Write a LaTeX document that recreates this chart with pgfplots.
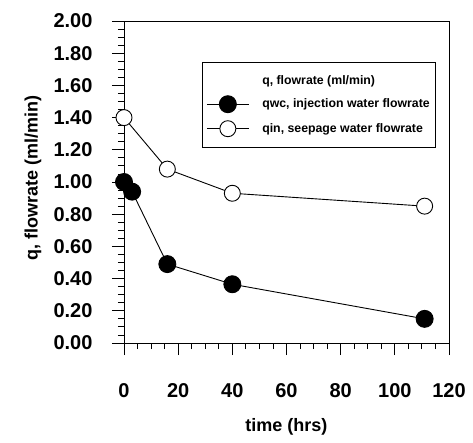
\documentclass[border=0pt]{standalone}
\usepackage{pgfplots}
\pgfplotsset{compat=1.18}
\usepackage{fontspec}
\setmainfont{Liberation Sans}
\begin{document}
\begin{tikzpicture}
\useasboundingbox (-124pt,-99pt) rectangle (349pt,343pt);
\begin{axis}[
  scale only axis, width=325pt, height=322pt,
  xmin=0, xmax=120, ymin=0, ymax=2,
  clip=false,
  xtick={0,20,40,60,80,100,120},
  ytick={0,0.2,0.4,0.6,0.8,1.0,1.2,1.4,1.6,1.8,2.0},
  minor x tick num=3, minor y tick num=3,
  tick align=outside, xtick pos=bottom, ytick pos=left,
  major tick length=12pt, minor tick length=6pt,
  tick style={black, line width=0.9pt},
  axis line style={line width=1pt},
  /pgf/number format/assume math mode=true,
  xticklabel={\pgfmathprintnumber[assume math mode=true]{\tick}},
  yticklabel={\pgfmathprintnumber[assume math mode=true,fixed,fixed zerofill,precision=2]{\tick}},
  ticklabel style={font=\fontsize{20}{24}\bfseries\selectfont},
  xticklabel style={yshift=-25pt},
  yticklabel style={xshift=-16pt},
  xlabel={time (hrs)},
  ylabel={q, flowrate (ml/min)},
  label style={font=\fontsize{18}{22}\bfseries\selectfont},
  xlabel style={at={(axis description cs:0.5,-0.261)}, anchor=center},
  ylabel style={at={(axis description cs:-0.28,0.5125)}, anchor=center},
  legend cell align=left,
  legend image code/.code={\draw[mark repeat=2,mark phase=2] plot coordinates {(0pt,0pt) (21pt,0pt) (42pt,0pt)};},
  legend style={at={(axis description cs:0.24,0.873)}, anchor=north west,
    draw=black, line width=0.8pt,
    font=\fontsize{12.3}{14}\bfseries\selectfont,
    inner xsep=4pt, inner ysep=11pt, row sep=8pt,
    /tikz/every odd column/.append style={column sep=11pt}},
]
\addlegendimage{empty legend}
\addlegendentry{q, flowrate (ml/min)}
\addplot[black, line width=0.9pt, mark=*, mark size=8.5pt, mark options={fill=black}]
  coordinates {(0,1.00)(3,0.94)(16,0.49)(40,0.365)(111,0.15)};
\addlegendentry{qwc, injection water flowrate}
\addplot[black, line width=0.9pt, mark=*, mark size=8pt, mark options={fill=white, line width=0.9pt}]
  coordinates {(0,1.40)(16,1.08)(40,0.93)(111,0.85)};
\addlegendentry{qin, seepage water flowrate}
\end{axis}
\end{tikzpicture}
\end{document}
